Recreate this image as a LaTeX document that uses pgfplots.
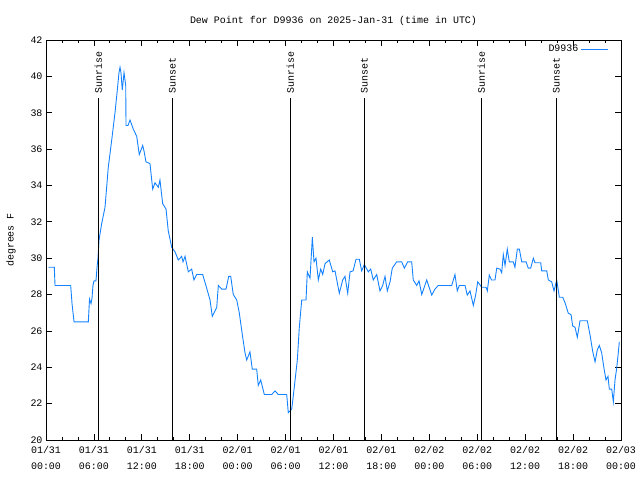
\documentclass[border=0pt]{standalone}
\usepackage{pgfplots}
\pgfplotsset{compat=1.18}
\usepackage{fontspec}
\setmainfont{Liberation Mono}
\definecolor{dew}{RGB}{20,130,255}
\begin{document}
\begin{tikzpicture}
\useasboundingbox (-46bp,-40bp) rectangle (594bp,440bp);
\begin{axis}[
  at={(0,0)}, anchor=south west,
  scale only axis, width=575bp, height=400bp,
  xmin=0, xmax=72, ymin=20, ymax=42,
  xtick={0,6,...,72}, minor x tick num=2,
  ytick={20,22,...,42},
  xticklabels={{01/31\\00:00},{01/31\\06:00},{01/31\\12:00},{01/31\\18:00},{02/01\\00:00},{02/01\\06:00},{02/01\\12:00},{02/01\\18:00},{02/02\\00:00},{02/02\\06:00},{02/02\\12:00},{02/02\\18:00},{02/03\\00:00}},
  xticklabel style={align=center, font=\fontsize{10}{16}\selectfont, yshift=-3bp},
  yticklabel style={font=\fontsize{10}{12}\selectfont},
  /pgf/number format/assume math mode=true,
  tick align=inside, major tick length=6bp, minor tick length=3bp,
  axis line style={line width=0.8bp}, tick style={line width=0.8bp, black},
  title={Dew Point for D9936 on 2025-Jan-31 (time in UTC)},
  title style={font=\fontsize{10}{12}\selectfont, yshift=5bp},
  ylabel={degrees F},
  ylabel style={font=\fontsize{10}{12}\selectfont, yshift=8bp},
  legend style={draw=none, fill=none, at={(0.98,0.995)}, anchor=north east, font=\fontsize{10}{12}\selectfont, legend plot pos=right, inner sep=1bp},
  legend cell align=right,
  legend image code/.code={\draw[dew, line width=0.9bp] (0bp,0bp) -- (27bp,0bp);},
]
\addplot[color=dew, line width=0.9bp] coordinates {
(0.29,29.5)(1.04,29.5)(1.13,28.5)(3.09,28.5)(3.26,27.5)(3.51,26.5)(5.30,26.5)(5.45,27.75)(5.64,27.5)(5.76,27.8)(5.88,28.5)(6.01,28.75)(6.26,28.75)(6.39,29.5)(6.51,30.0)(6.64,31.0)(6.97,31.9)(7.39,32.8)(7.80,35.0)(8.23,36.5)(8.64,38.0)(8.93,39.25)(9.14,40.2)(9.27,40.5)(9.39,40.2)(9.55,39.25)(9.77,40.2)(9.98,39.5)(10.02,37.3)(10.27,37.3)(10.52,37.6)(10.93,37.1)(11.36,36.7)(11.68,35.7)(12.11,36.2)(12.27,35.9)(12.52,35.3)(13.02,35.2)(13.36,33.8)(13.65,34.15)(14.06,33.9)(14.27,34.3)(14.61,33.0)(15.03,32.7)(15.31,31.5)(15.74,30.6)(16.15,30.35)(16.57,29.9)(16.99,30.1)(17.16,29.8)(17.41,30.1)(17.82,29.25)(18.24,29.4)(18.53,28.8)(18.87,29.1)(19.62,29.1)(20.12,28.35)(20.54,27.7)(20.82,26.8)(21.38,27.3)(21.58,28.5)(22.00,28.3)(22.54,28.3)(22.88,29.0)(23.13,29.0)(23.45,28.0)(23.88,27.7)(24.20,27.0)(24.58,25.8)(24.92,24.8)(25.13,24.4)(25.54,24.85)(25.83,23.9)(26.38,23.9)(26.58,23.0)(26.88,23.3)(27.34,22.5)(28.26,22.5)(28.68,22.7)(29.09,22.5)(30.14,22.5)(30.34,21.5)(30.77,21.7)(31.05,22.75)(31.47,24.4)(31.72,26.2)(32.02,27.7)(32.56,27.7)(32.72,29.25)(33.06,28.9)(33.35,31.15)(33.56,29.8)(33.81,30.0)(34.10,28.8)(34.40,29.4)(34.65,29.1)(34.94,29.7)(35.47,29.9)(35.90,29.25)(36.19,29.3)(36.73,28.07)(37.15,28.8)(37.44,29.0)(37.78,28.07)(38.07,29.25)(38.45,29.3)(38.82,29.94)(39.23,29.94)(39.53,29.3)(39.86,29.65)(40.36,29.25)(40.66,29.4)(40.98,28.8)(41.41,29.1)(41.82,28.2)(42.16,28.5)(42.45,29.0)(42.74,28.2)(43.08,28.7)(43.36,29.45)(43.91,29.8)(44.54,29.8)(44.87,29.45)(45.29,29.8)(45.79,29.8)(45.99,28.8)(46.42,28.5)(46.71,28.75)(47.05,28.0)(47.67,28.8)(48.30,27.97)(48.71,28.3)(49.12,28.5)(50.80,28.5)(51.21,29.1)(51.50,28.2)(51.75,28.5)(52.47,28.5)(52.75,27.97)(53.09,28.2)(53.51,27.4)(53.81,28.0)(54.06,28.7)(54.56,28.4)(55.10,28.4)(55.26,28.2)(55.51,29.07)(55.79,28.8)(56.22,28.8)(56.44,29.45)(56.85,29.4)(57.06,29.2)(57.26,30.2)(57.48,29.6)(57.76,30.5)(58.01,29.8)(58.51,29.8)(58.72,29.5)(59.02,30.5)(59.27,30.5)(59.57,29.8)(60.11,29.8)(60.39,29.45)(60.69,29.45)(61.02,30.0)(61.23,29.75)(61.95,29.75)(62.07,29.3)(62.70,29.3)(62.90,28.8)(63.32,28.7)(63.61,28.2)(63.95,28.8)(64.28,27.85)(64.70,27.85)(64.99,27.55)(65.40,26.97)(65.74,26.9)(65.95,26.27)(66.24,26.2)(66.53,25.65)(66.87,26.56)(67.78,26.56)(68.12,25.78)(68.46,24.86)(68.75,24.3)(69.03,24.95)(69.28,25.2)(69.58,24.8)(69.87,23.94)(70.12,23.3)(70.37,23.5)(70.54,22.8)(70.84,22.8)(71.04,22.1)(71.25,23.3)(71.46,23.94)(71.66,24.8)(71.79,25.4)
};
\addlegendentry{D9936}
\addplot[black, line width=0.9bp, forget plot] coordinates {(6.55,20)(6.55,38.8)};
\addplot[black, line width=0.9bp, forget plot] coordinates {(15.82,20)(15.82,38.8)};
\addplot[black, line width=0.9bp, forget plot] coordinates {(30.59,20)(30.59,38.8)};
\addplot[black, line width=0.9bp, forget plot] coordinates {(39.86,20)(39.86,38.8)};
\addplot[black, line width=0.9bp, forget plot] coordinates {(54.51,20)(54.51,38.8)};
\addplot[black, line width=0.9bp, forget plot] coordinates {(63.90,20)(63.90,38.8)};
\foreach \t/\s in {6.55/Sunrise,15.82/Sunset,30.59/Sunrise,39.86/Sunset,54.51/Sunrise,63.90/Sunset}{
  \edef\tmp{\noexpand\node[rotate=90, anchor=west, inner sep=1bp, font=\noexpand\fontsize{10}{12}\noexpand\selectfont] at (axis cs:\t,39.0) {\s};}
  \tmp
}
\end{axis}
\end{tikzpicture}
\end{document}
